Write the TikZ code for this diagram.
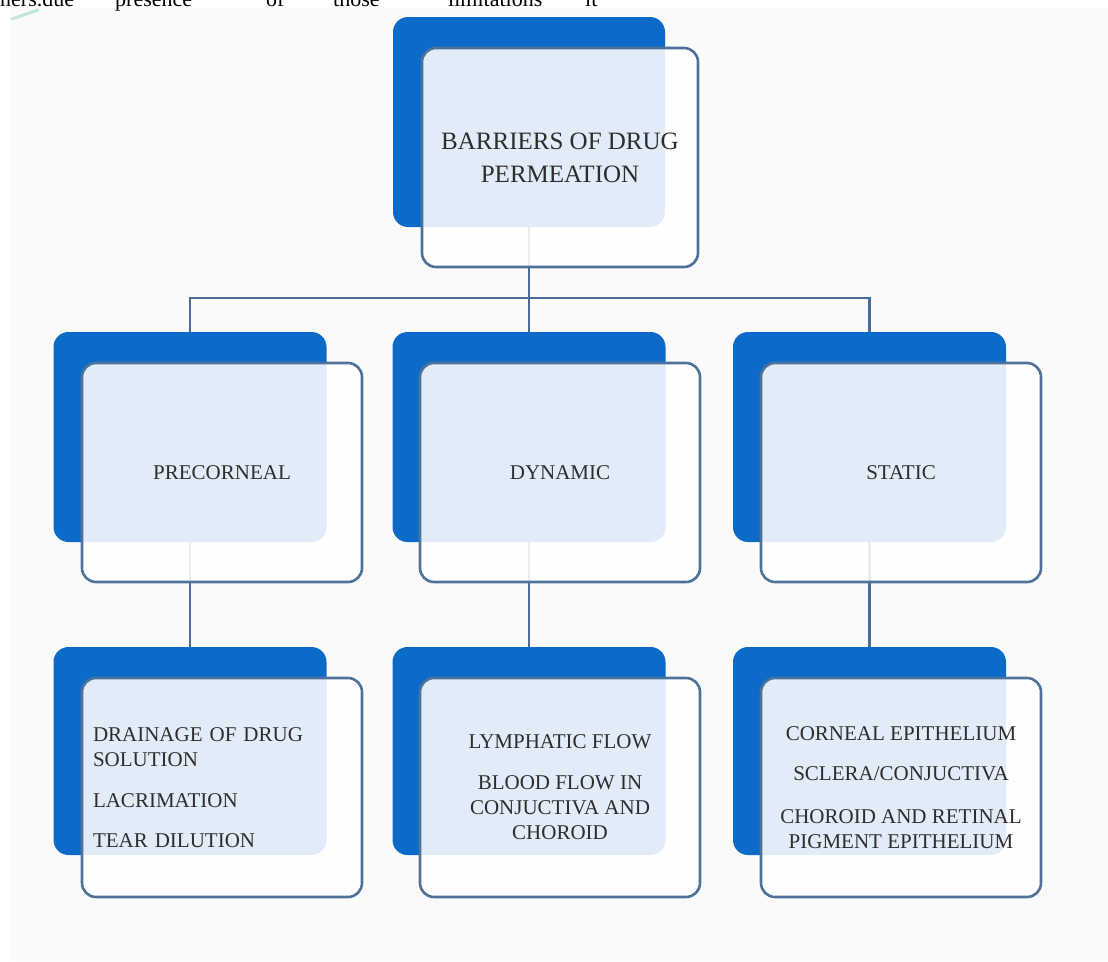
\documentclass[tikz,border=0pt]{standalone}
\usepackage{fontspec}
\setmainfont{Liberation Serif}
\definecolor{backblue}{RGB}{12,106,200}
\definecolor{edgeblue}{RGB}{78,114,154}
\definecolor{linkblue}{RGB}{72,108,148}
\definecolor{panelgray}{RGB}{250,250,250}
\definecolor{ink}{RGB}{45,45,45}
\definecolor{smear}{RGB}{170,220,210}
\begin{document}
\begin{tikzpicture}[x=1pt,y=-1pt,
  backbox/.style={fill=backblue, rounded corners=15pt, minimum width=273pt, minimum height=210pt, inner sep=0pt},
  frontbox/.style={fill=white, fill opacity=0.88, text opacity=1, draw=edgeblue, draw opacity=1,
    line width=2.6pt, rounded corners=14pt, minimum width=280pt, minimum height=219pt, inner sep=0pt,
    text=ink, font=\fontsize{21}{25}\selectfont, align=center},
  link/.style={draw=linkblue, line width=2.2pt},
  frag/.style={anchor=base west, inner sep=0pt, font=\fontsize{22}{26}\selectfont, text=black}]
\useasboundingbox (0,0) rectangle (1108,961);
\fill[white] (0,0) rectangle (1108,961);
\fill[panelgray] (10,8) rectangle (1108,961);
\draw[smear, line width=3pt, opacity=0.7, line cap=round] (12,19) -- (38,10);
% fragment of text above the figure (cut off at the top, as in the reference)
\node[frag] (t1) at (0,6) {ners.due};
\node[frag] (t2) at (115,6) {presence};
\node[frag] (t3) at (266,6) {of};
\node[frag] (t4) at (333,6) {those};
\node[frag] (t5) at (448,6) {limitations};
\node[frag] (t6) at (585,6) {it};
% back boxes
\node[backbox, minimum width=272pt] (topB) at (529,122) {};
\node[backbox] (preB) at (190,437) {};
\node[backbox] (dynB) at (529,437) {};
\node[backbox] (staB) at (869.5,437) {};
\node[backbox, minimum height=208pt] (preBB) at (190,751) {};
\node[backbox, minimum height=208pt] (dynBB) at (529,751) {};
\node[backbox, minimum height=208pt] (staBB) at (869.5,751) {};
% connectors
\coordinate (j) at (529,298);
\draw[link] (topB.south) -- (j);
\draw[link] (preB.north) |- (j) -| (staB.north);
\draw[link] (j) -- (dynB.north);
\draw[link] (preB.south) -- (preBB.north);
\draw[link] (dynB.south) -- (dynBB.north);
\draw[link] (staB.south) -- (staBB.north);
% front boxes
\node[frontbox, minimum width=276pt, font=\fontsize{25}{33}\selectfont] (topF) at (560,157.5) {BARRIERS OF DRUG\\PERMEATION};
\node[frontbox] (preF) at (222,472.5) {PRECORNEAL};
\node[frontbox] (dynF) at (560,472.5) {DYNAMIC};
\node[frontbox] (staF) at (901,472.5) {STATIC};
\node[frontbox, align=left, text width=258pt] (preFB) at (222,787.5) {DRAINAGE OF DRUG\\SOLUTION\\[16pt]LACRIMATION\\[15pt]TEAR DILUTION};
\node[frontbox] (dynFB) at (560,787.5) {LYMPHATIC FLOW\\[16pt]BLOOD FLOW IN\\CONJUCTIVA AND\\CHOROID};
\node[frontbox] (staFB) at (901,787.5) {CORNEAL EPITHELIUM\\[15pt]SCLERA/CONJUCTIVA\\[18pt]CHOROID AND RETINAL\\PIGMENT EPITHELIUM};
\end{tikzpicture}
\end{document}
